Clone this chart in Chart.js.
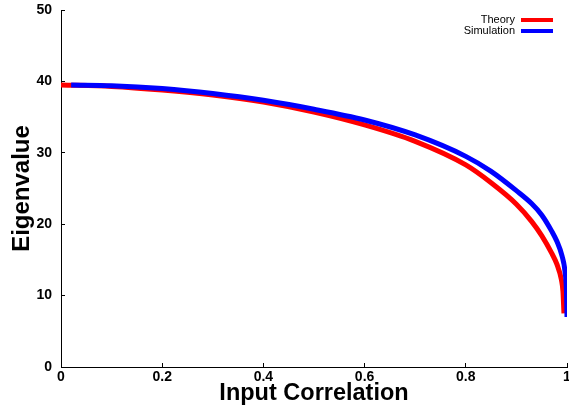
<!DOCTYPE html>
<html>
<head>
<meta charset="utf-8">
<script src="https://cdn.jsdelivr.net/npm/chart.js@4.4.1/dist/chart.umd.min.js"></script>
<style>
  body { margin: 0; background: #fff; }
  canvas { display: block; }
</style>
</head>
<body>
<canvas id="myChart" width="569" height="408"></canvas>
<script>
// input correlation values and eigenvalues
const corrTheory = [0, 0.1, 0.2, 0.3, 0.4, 0.5, 0.6, 0.7, 0.8, 0.85, 0.9, 0.93, 0.95, 0.97, 0.98, 0.989, 0.992, 0.994];
const theory = [39.5, 39.3, 38.8, 38.1, 37.1, 35.7, 33.9, 31.6, 28.3, 25.8, 22.8, 20.4, 18.4, 15.9, 14.4, 12.2, 10.6, 7.5];

const corrSim = [0.02, 0.1, 0.2, 0.3, 0.4, 0.5, 0.6, 0.7, 0.8, 0.85, 0.9, 0.93, 0.95, 0.97, 0.98, 0.99, 0.996, 0.999, 1];
const simulation = [39.5, 39.4, 39.0, 38.3, 37.35, 36.1, 34.6, 32.5, 29.5, 27.4, 24.7, 22.9, 21.3, 19.0, 17.6, 15.6, 13.4, 10.5, 7.0];

const xTicks = [0, 0.2, 0.4, 0.6, 0.8, 1];
const yTicks = [0, 10, 20, 30, 40, 50];

const toPoints = (xs, ys) => xs.map((x, i) => ({ x: x, y: ys[i] }));

Chart.defaults.font.family = '"Liberation Sans", Arial, sans-serif';
Chart.defaults.color = '#000';

// legend in the top right corner, text left of the line
const cornerLegend = {
  id: 'cornerLegend',
  afterDraw(chart) {
    const c = chart.ctx;
    c.save();
    c.font = '11px "Liberation Sans", Arial, sans-serif';
    c.textAlign = 'right';
    c.textBaseline = 'middle';
    chart.data.datasets.forEach((ds, i) => {
      const y = 20 + i * 11;
      c.fillStyle = '#000';
      c.fillText(ds.label, 515, y);
      c.strokeStyle = ds.borderColor;
      c.lineWidth = 4;
      c.beginPath();
      c.moveTo(521, y);
      c.lineTo(553, y);
      c.stroke();
    });
    c.restore();
  }
};

const ctx = document.querySelector('#myChart').getContext('2d');

const config = {
  type: 'line',
  data: {
    datasets: [
      {
        label: 'Theory',
        data: toPoints(corrTheory, theory),
        borderColor: '#ff0000',
        borderWidth: 5,
        pointRadius: 0,
        cubicInterpolationMode: 'monotone',
        order: 1,
      },
      {
        label: 'Simulation',
        data: toPoints(corrSim, simulation),
        borderColor: '#0000ff',
        borderWidth: 5,
        pointRadius: 0,
        cubicInterpolationMode: 'monotone',
        order: 0,
      },
    ],
  },
  options: {
    responsive: false,
    animation: false,
    devicePixelRatio: 1,
    layout: { padding: { top: 10, right: 2, left: 0, bottom: 0 } },
    plugins: {
      legend: { display: false },
      tooltip: { enabled: false },
    },
    scales: {
      x: {
        type: 'linear',
        min: 0,
        max: 1,
        afterBuildTicks: (s) => { s.ticks = xTicks.map((v) => ({ value: v })); },
        afterFit: (s) => { s.height = 41; s.paddingLeft = 0; s.paddingRight = 0; },
        grid: { drawOnChartArea: false, tickLength: -4, color: '#000' },
        border: { color: '#000', width: 1 },
        ticks: {
          padding: 6,
          maxRotation: 0,
          font: { size: 14, weight: 'bold' },
          callback: (v) => String(v),
        },
        title: {
          display: true,
          text: 'Input Correlation',
          font: { size: 23.5, weight: 'bold' },
          padding: { top: 0, bottom: 0 },
        },
      },
      y: {
        min: 0,
        max: 50,
        afterBuildTicks: (s) => { s.ticks = yTicks.map((v) => ({ value: v })); },
        afterFit: (s) => { s.width = 61; s.paddingTop = 0; s.paddingBottom = 0; },
        grid: { drawOnChartArea: false, tickLength: -4, color: '#000' },
        border: { color: '#000', width: 1 },
        ticks: {
          padding: 13,
          font: { size: 14, weight: 'bold' },
        },
        title: {
          display: true,
          text: 'Eigenvalue',
          font: { size: 24, weight: 'bold' },
          padding: { top: 8, bottom: 0 },
        },
      },
    },
  },
  plugins: [cornerLegend],
};

const myChart = new Chart(ctx, config);
</script>
</body>
</html>
